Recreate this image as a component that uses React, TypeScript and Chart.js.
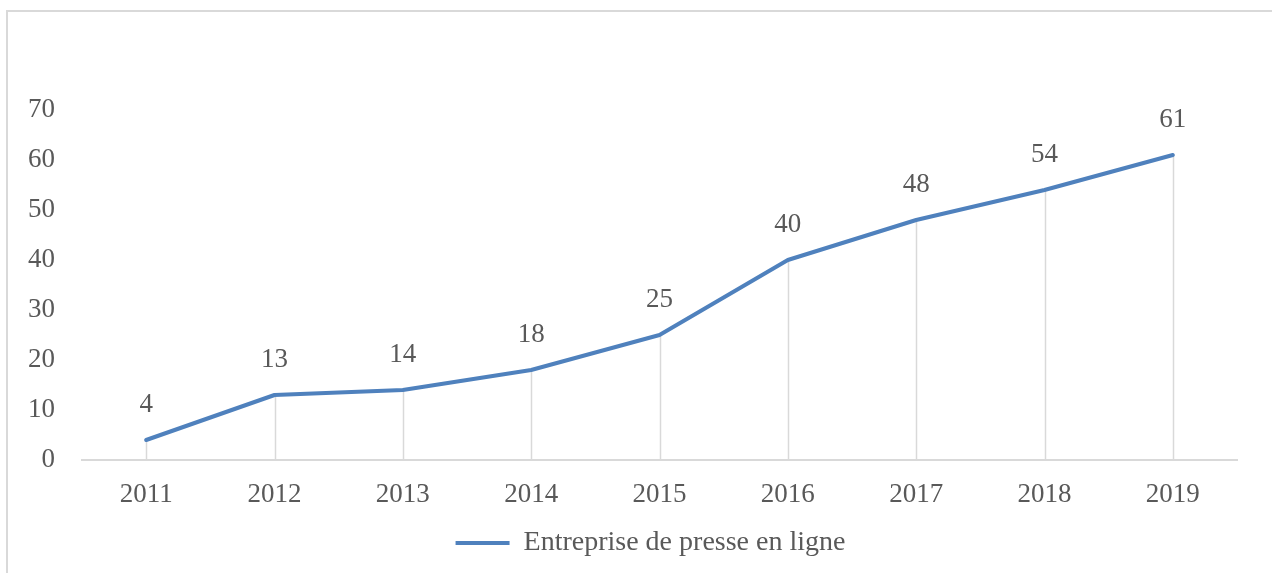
import React, { useEffect, useRef } from "react";
import { Chart, registerables } from "chart.js";

Chart.register(...registerables);

const years = ["2011", "2012", "2013", "2014", "2015", "2016", "2017", "2018", "2019"];
const values = [4, 13, 14, 18, 25, 40, 48, 54, 61];
const seriesLabel = "Entreprise de presse en ligne";

const FONT = "'Liberation Serif', 'DejaVu Serif', serif";
const TEXT = "#595959";
const LINE = "#4F81BD";
const GRID = "#d9d9d9";

const frame = {
  id: "frame",
  beforeDraw(chart: any) {
    const c = chart.ctx;
    c.save();
    c.fillStyle = "#fff";
    c.fillRect(0, 0, chart.width, chart.height);
    c.strokeStyle = GRID;
    c.lineWidth = 2;
    c.strokeRect(7, 11, chart.width + 20, chart.height + 20);
    c.restore();
  },
};

const legendShift = {
  id: "legendShift",
  afterLayout(chart: any) {
    const lg = chart.legend;
    if (lg) {
      lg.left += 32;
      lg.right += 32;
    }
  },
};

const dropLines = {
  id: "dropLines",
  beforeDatasetsDraw(chart: any) {
    const c = chart.ctx;
    const meta = chart.getDatasetMeta(0);
    const y0 = chart.scales.y.getPixelForValue(0);
    c.save();
    c.strokeStyle = GRID;
    c.lineWidth = 1.5;
    meta.data.forEach((p: any) => {
      c.beginPath();
      c.moveTo(Math.round(p.x) + 0.5, p.y);
      c.lineTo(Math.round(p.x) + 0.5, y0);
      c.stroke();
    });
    c.restore();
  },
};

const dataLabels = {
  id: "dataLabels",
  afterDatasetsDraw(chart: any) {
    const c = chart.ctx;
    const meta = chart.getDatasetMeta(0);
    const data = chart.data.datasets[0].data;
    c.save();
    c.fillStyle = TEXT;
    c.font = `27px ${FONT}`;
    c.textAlign = "center";
    c.textBaseline = "middle";
    meta.data.forEach((p: any, i: number) => {
      c.fillText(String(data[i]), p.x, p.y - 35);
    });
    c.restore();
  },
};

export default function App() {
  const ref = useRef<HTMLCanvasElement | null>(null);
  useEffect(() => {
    document.body.style.margin = "0";
    const chart = new Chart(ref.current as HTMLCanvasElement, {
      type: "line",
      data: {
        labels: years,
        datasets: [
          {
            label: seriesLabel,
            data: values,
            borderColor: LINE,
            backgroundColor: LINE,
            borderWidth: 4,
            pointRadius: 0,
            tension: 0,
            borderCapStyle: "round",
            borderJoinStyle: "round",
          },
        ],
      },
      options: {
        responsive: false,
        animation: false,
        layout: { padding: { left: 0, top: 110, right: 35, bottom: 6 } },
        plugins: {
          tooltip: { enabled: false },
          legend: {
            position: "bottom",
            labels: {
              color: TEXT,
              font: { family: FONT, size: 28 },
              boxWidth: 54,
              boxHeight: 4,
              padding: 10,
              generateLabels(chart: any) {
                return Chart.defaults.plugins.legend.labels
                  .generateLabels(chart)
                  .map((l: any) => ({ ...l, lineWidth: 0, fillStyle: LINE }));
              },
            },
          },
        },
        scales: {
          x: {
            offset: true,
            grid: { display: false, drawTicks: false },
            border: { display: true, color: GRID, width: 2 },
            ticks: { color: TEXT, font: { family: FONT, size: 27 }, padding: 19, maxRotation: 0 },
            afterFit(s: any) {
              s.height = 59;
            },
          },
          y: {
            min: 0,
            max: 70,
            grid: { display: false, drawTicks: false },
            border: { display: false },
            ticks: { stepSize: 10, color: TEXT, font: { family: FONT, size: 27 }, padding: 27 },
            afterFit(s: any) {
              s.width = 82;
            },
          },
        },
      },
      plugins: [frame, legendShift, dropLines, dataLabels],
    } as any);
    return () => chart.destroy();
  }, []);
  return (
    <div style={{ position: "absolute", left: 0, top: 0, width: 1272, height: 573 }}>
      <canvas ref={ref} width={1272} height={573} style={{ display: "block" }} />
    </div>
  );
}
